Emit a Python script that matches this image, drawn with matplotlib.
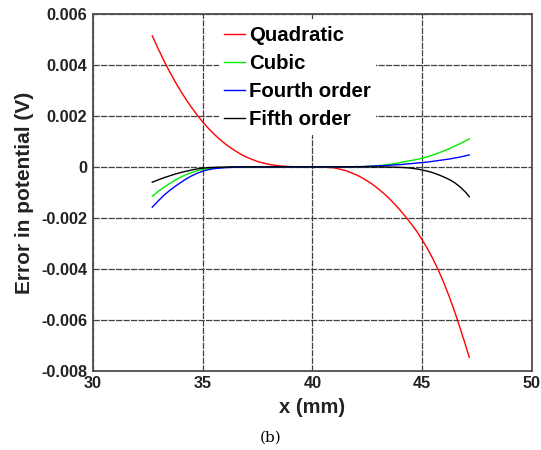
import matplotlib
matplotlib.use("Agg")
import matplotlib.pyplot as plt

# values
x_mm = [32.7, 33.0, 33.25, 33.5, 33.75, 34.0, 34.25, 34.5, 34.75, 35.0,
        35.25, 35.5, 35.75, 36.0, 36.25, 36.5, 36.75, 37.0,
        37.5, 38.0, 38.5, 39.0, 39.5, 40.0, 40.5, 41.0, 41.5,
        42.0, 42.25, 42.5, 42.75, 43.0, 43.25, 43.5, 43.75, 44.0, 44.25,
        44.5, 44.75, 45.0, 45.25, 45.5, 45.75, 46.0, 46.25, 46.5, 46.75,
        47.0, 47.15]
quadratic = [0.00514, 0.00458, 0.00413, 0.00372, 0.00333, 0.00297, 0.00263,
             0.00232, 0.00203, 0.00176, 0.00152, 0.00130, 0.00110, 0.00092,
             0.00076, 0.00062, 0.00049, 0.00038,
             0.00021, 0.00010, 0.00004, 0.00001, 0.0, 0.0, -0.00001,
             -0.00004, -0.00014,
             -0.00031, -0.00042, -0.00055, -0.00069, -0.00086, -0.00104,
             -0.00124, -0.00146, -0.00170, -0.00196, -0.00223, -0.00252,
             -0.00286, -0.00322, -0.00362, -0.00407, -0.00457, -0.00512,
             -0.00572, -0.00637, -0.00705, -0.00747]
cubic = [-0.00115, -0.00094, -0.00079, -0.00065, -0.00052, -0.00040, -0.00030,
         -0.00022, -0.00015, -0.00010, -0.00007, -0.00005, -0.00003, -0.00002,
         -0.00002, -0.00001, -0.00001, 0.0,
         0.0, 0.0, 0.0, 0.0, 0.0, 0.0, 0.0, 0.0, 0.0,
         0.00001, 0.00001, 0.00002, 0.00003, 0.00005, 0.00007, 0.00010,
         0.00013, 0.00017, 0.00021, 0.00025, 0.00029, 0.00034, 0.00040,
         0.00047, 0.00055, 0.00063, 0.00072, 0.00082, 0.00092, 0.00103,
         0.00110]
fourth = [-0.00158, -0.00131, -0.00110, -0.00092, -0.00076, -0.00061,
          -0.00047, -0.00035, -0.00025, -0.00017, -0.00011, -0.00007,
          -0.00005, -0.00003, -0.00002, -0.00001, -0.00001, 0.0,
          0.0, 0.0, 0.0, 0.0, 0.0, 0.0, 0.0, 0.0, 0.0,
          0.00001, 0.00001, 0.00002, 0.00003, 0.00004, 0.00005, 0.00006,
          0.00008, 0.00009, 0.00011, 0.00013, 0.00015, 0.00017, 0.00019,
          0.00022, 0.00025, 0.00028, 0.00031, 0.00035, 0.00039, 0.00044,
          0.00047]
fifth = [-0.00060, -0.00050, -0.00042, -0.00035, -0.00028, -0.00022,
         -0.00017, -0.00012, -0.00008, -0.00005, -0.00003, -0.00002,
         -0.00001, -0.00001, 0.0, 0.0, 0.0, 0.0,
         0.0, 0.0, 0.0, 0.0, 0.0, 0.0, 0.0, 0.0, 0.0,
         0.0, 0.0, 0.0, 0.0, 0.0, 0.0, -0.00001, -0.00001, -0.00002,
         -0.00003, -0.00005, -0.00008, -0.00012, -0.00017, -0.00023,
         -0.00031, -0.00040, -0.00050, -0.00063, -0.00080, -0.00101,
         -0.00117]

series = [("Quadratic", quadratic, "red"),
          ("Cubic", cubic, "#00ee00"),
          ("Fourth order", fourth, "blue"),
          ("Fifth order", fifth, "black")]

x_ticks = [30, 35, 40, 45, 50]
y_ticks = [0.006, 0.004, 0.002, 0, -0.002, -0.004, -0.006, -0.008]
y_labels = ["0.006", "0.004", "0.002", "0", "-0.002", "-0.004", "-0.006", "-0.008"]

plt.rcParams['font.family'] = ['Liberation Sans', 'DejaVu Sans']

fig = plt.figure(figsize=(5.41, 4.5), dpi=100)
ax = fig.add_axes([0.172, 0.176, 0.811, 0.793])

for label, vals, col in series:
    ax.plot(x_mm, vals, color=col, lw=1.0, label=label)

ax.set_xlim(30, 50)
ax.set_ylim(-0.008, 0.006)
ax.set_xticks(x_ticks)
ax.set_yticks(y_ticks)
ax.set_yticklabels(y_labels)
ax.tick_params(length=0, labelsize=11.7, pad=4)
for t in ax.get_xticklabels() + ax.get_yticklabels():
    t.set_fontweight('bold')
    t.set_color('#222222')

ax.grid(True, color='0.25', linestyle=(0, (5, 1)), lw=0.9)
ax.set_axisbelow(True)
for s in ax.spines.values():
    s.set_color('0.3')
    s.set_linewidth(1.3)

ax.set_xlabel("x (mm)", fontsize=14.5, fontweight='bold', color='#222222', labelpad=5)
ax.set_ylabel("Error in potential (V)", fontsize=15, fontweight='bold',
              color='#222222', labelpad=5)

leg = ax.legend(loc='upper left', bbox_to_anchor=(0.272, 1.0),
                prop={'weight': 'bold', 'size': 14.7}, handlelength=1.0,
                handletextpad=0.2, labelspacing=0.45, borderpad=0.28,
                borderaxespad=0.3, frameon=True, fancybox=False)
leg.get_frame().set_facecolor('white')
leg.get_frame().set_edgecolor('none')
leg.get_frame().set_alpha(1.0)

fig.text(0.5, 0.028, "(b)", ha='center', va='center', fontsize=11,
         family='DejaVu Serif')

fig.savefig("out.png", dpi=100)
